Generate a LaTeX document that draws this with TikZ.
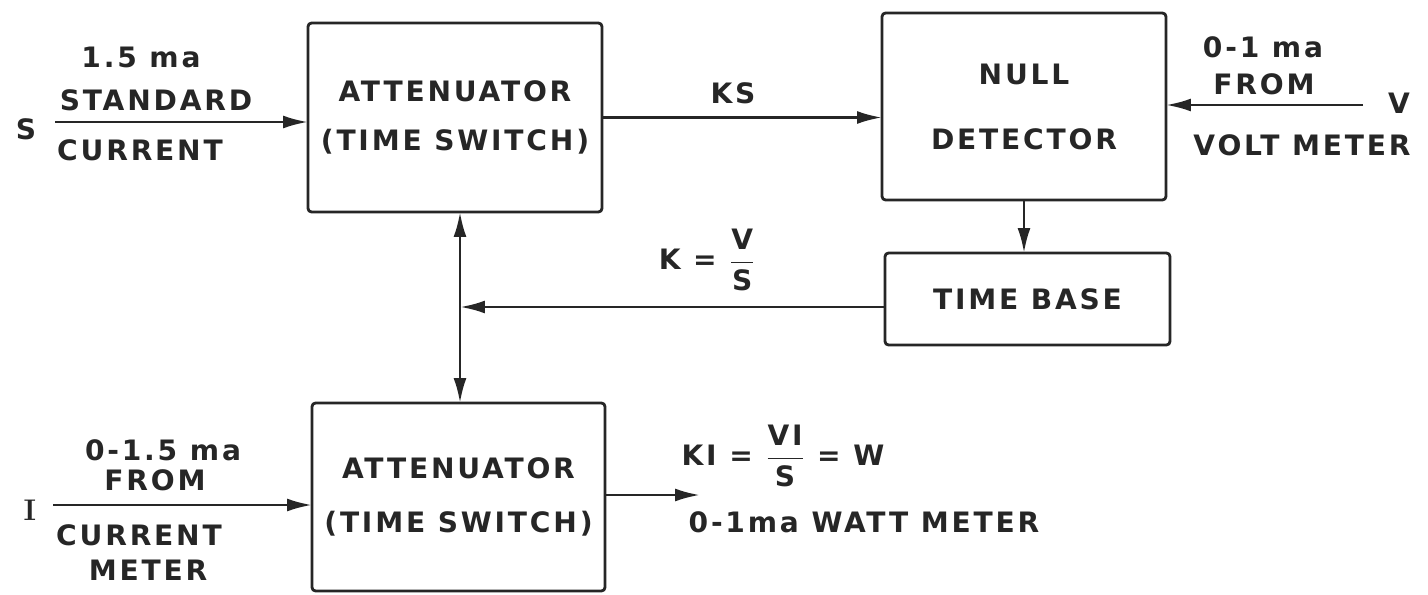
\documentclass[tikz,border=0pt]{standalone}
\usepackage{amsmath}
\usepackage{fontspec}
\newfontfamily\lettering[LetterSpace=10]{DejaVu Sans}
\usetikzlibrary{arrows.meta,positioning,calc}
\tikzstyle{blockbox}=[rectangle, draw=black!85, line width=1.6pt, rounded corners=2pt, align=center, inner sep=0pt, outer sep=0pt, text=black!85, font=\lettering\bfseries\fontsize{16}{19}\selectfont]
\tikzstyle{tag}=[inner sep=0pt, text=black!85, font=\lettering\bfseries\fontsize{16}{19}\selectfont]
\tikzstyle{sigline}=[draw=black!85, line width=1.6pt, -{Latex[length=5mm,width=2.6mm]}]

\begin{document}
\begin{tikzpicture}[x=0.02cm, y=-0.02cm]
    \useasboundingbox (0,0) rectangle (1428,595);

    \node[blockbox, minimum width=5.88cm, minimum height=3.78cm] (att1) at (455,117.5) {ATTENUATOR\\[9pt](TIME SWITCH)};
    \node[blockbox, minimum width=5.68cm, minimum height=3.74cm] (null) at (1024,106.5) {NULL\\[18pt]DETECTOR};
    \node[blockbox, minimum width=5.70cm, minimum height=1.84cm] (tbase) at (1027.5,299) {TIME BASE};
    \node[blockbox, minimum width=5.86cm, minimum height=3.76cm] (att2) at (458.5,497) {ATTENUATOR\\[12pt](TIME SWITCH)};

    \coordinate (sStart) at (55,122);
    \coordinate (vStart) at (1363,105);
    \coordinate (iStart) at (53,505);
    \coordinate (wOut) at (700,495);
    \coordinate (jn) at (460,307);

    \draw[sigline] (sStart) -- (sStart -| att1.west);
    \draw[sigline] (att1.east) -- (att1.east -| null.west);
    \draw[sigline] (vStart) -- (vStart -| null.east);
    \draw[sigline] (null.south) -- (null.south |- tbase.north);
    \draw[sigline] (tbase.west |- jn) -- (jn);
    \draw[sigline] (jn) -- (jn |- att1.south);
    \draw[sigline] (jn) -- (jn |- att2.north);
    \draw[sigline] (iStart) -- (iStart -| att2.west);
    \draw[sigline] (att2.east |- wOut) -- (wOut);

    \node[tag] (sLbl) at (26,129) {S};
    \node[tag] (stdAmp) at (141,57) {1.5 ma};
    \node[tag] (stdTop) at (156,100) {STANDARD};
    \node[tag] (stdBot) at (140,150) {CURRENT};
    \node[tag] (ksLbl) at (733,93) {KS};
    \node[tag] (voltAmp) at (1263,47) {0-1 ma};
    \node[tag] (voltTop) at (1264,84) {FROM};
    \node[tag] (vLbl) at (1399,103) {V};
    \node[tag] (voltBot) at (1302,145) {VOLT METER};
    \node[tag] (kLbl) at (707,260) {K = $\dfrac{\text{V}}{\text{S}}$};
    \node[tag, font=\rmfamily\bfseries\fontsize{17}{19}\selectfont] (iLbl) at (30,510) {I};
    \node[tag] (curAmp) at (163,450) {0-1.5 ma};
    \node[tag] (curTop) at (155,480) {FROM};
    \node[tag] (curBot) at (139,535) {CURRENT};
    \node[tag] (curMtr) at (148,570) {METER};
    \node[tag] (kiLbl) at (783,456) {KI = $\dfrac{\text{VI}}{\text{S}}$ = W};
    \node[tag] (wattLbl) at (864,522) {0-1ma WATT METER};
\end{tikzpicture}
\end{document}
